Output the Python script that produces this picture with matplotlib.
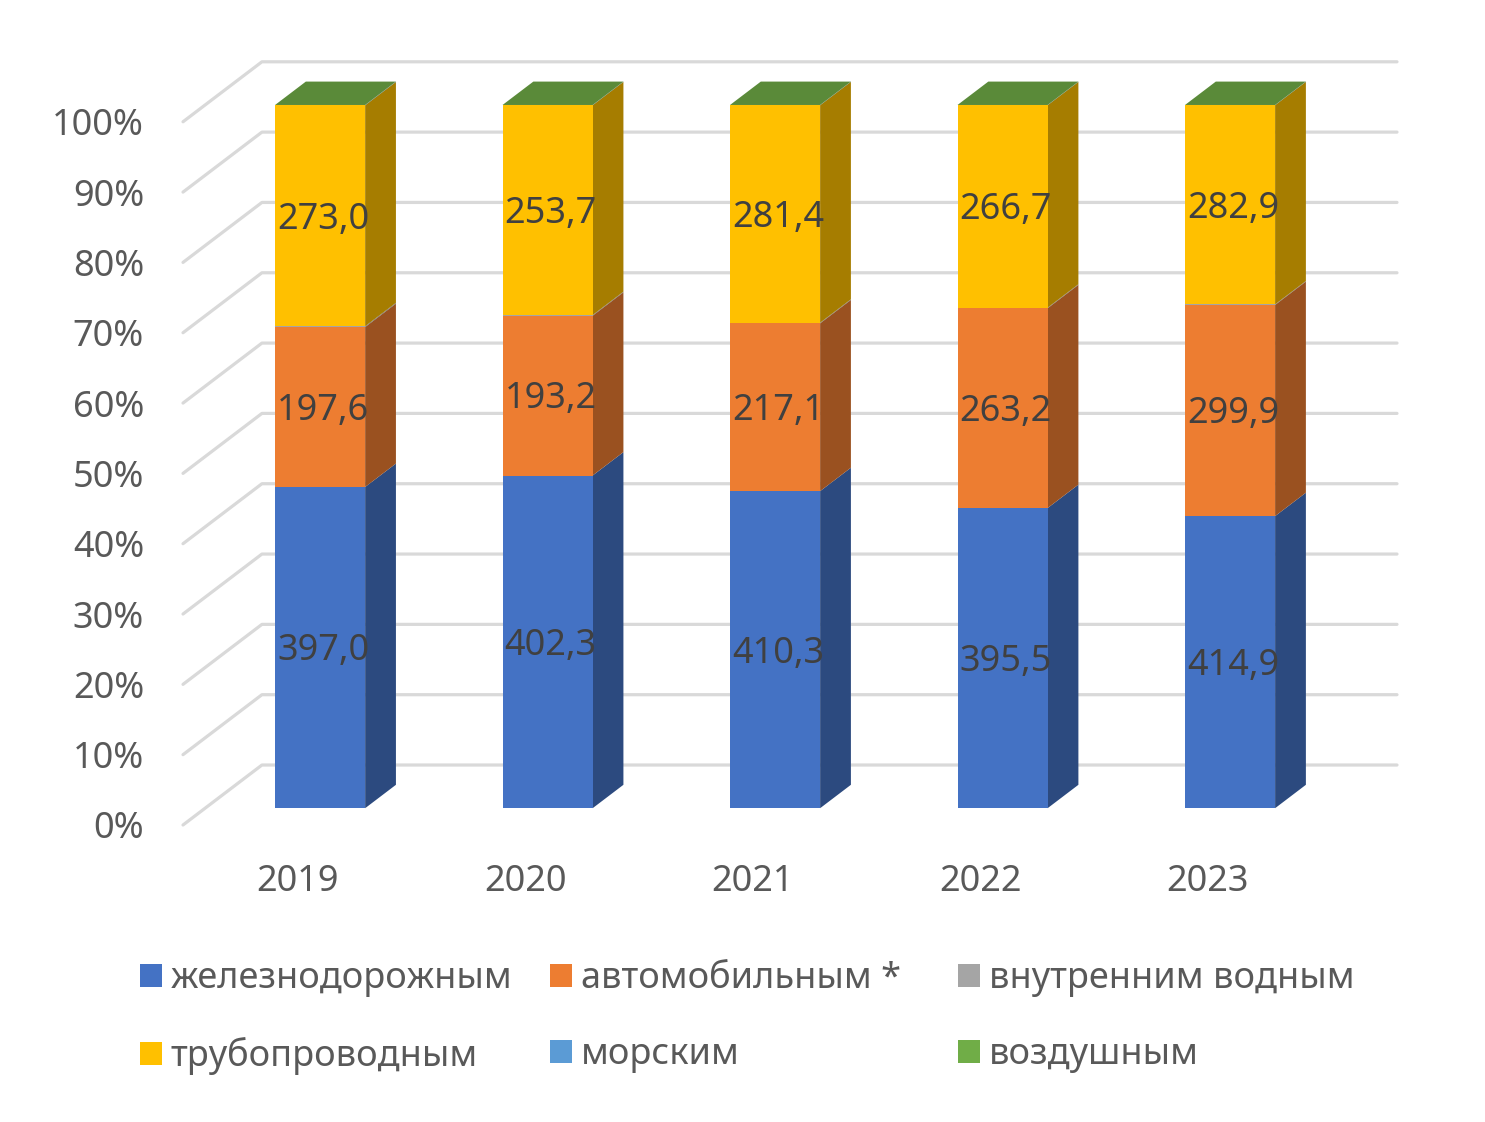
import numpy as np
import matplotlib.pyplot as plt
from matplotlib.patches import Polygon, Patch

plt.rcParams['font.family'] = ['Noto Sans', 'DejaVu Sans']

# Данные (перевозки грузов по видам транспорта)
years = ['2019', '2020', '2021', '2022', '2023']
zhd = [397.0, 402.3, 410.3, 395.5, 414.9]        # железнодорожным
avto = [197.6, 193.2, 217.1, 263.2, 299.9]       # автомобильным *
vodn = [1.0, 0.8, 0.8, 0.8, 0.8]                 # внутренним водным (мало, оценка)
truba = [273.0, 253.7, 281.4, 266.7, 282.9]      # трубопроводным
more = [0.4, 0.3, 0.3, 0.3, 0.3]                 # морским (оценка)
vozd = [0.05, 0.05, 0.05, 0.05, 0.05]            # воздушным (оценка)

names = ['железнодорожным', 'автомобильным *', 'внутренним водным',
         'трубопроводным', 'морским', 'воздушным']
colors = ['#4472C4', '#ED7D31', '#A5A5A5', '#FFC000', '#5B9BD5', '#70AD47']
series = [zhd, avto, vodn, truba, more, vozd]
labeled = [True, True, False, True, False, False]

data = np.array(series, dtype=float)
pct = data / data.sum(axis=0) * 100


def shade(c, k):
    r, g, b = [int(c[i:i + 2], 16) / 255 for i in (1, 3, 5)]
    return (r * k, g * k, b * k)


fig = plt.figure(figsize=(14.85, 11.22), dpi=100)
ax = fig.add_axes([183 / 1485, 1 - 825 / 1122, (1397 - 183) / 1485, (825 - 62) / 1122])
xl, xr = -0.5055, 4.831
ax.set_xlim(xl, xr)
ax.set_ylim(0, 108.5)

# глубина "стен" и столбцов
DXW, DYW = 0.347, 8.53
z0, z1 = 0.28, 0.67
bx, by = DXW * z0, DYW * z0
dx, dy = DXW * (z1 - z0), DYW * (z1 - z0)
w = 0.396

grid_c = '#D9D9D9'
for g in range(0, 101, 10):
    ax.plot([xl, xl + DXW, xr], [g, g + DYW, g + DYW], color=grid_c, lw=2.3,
            clip_on=False, zorder=1, solid_capstyle='round')

x = np.arange(len(years))
bottom = np.zeros(len(years))
for k in range(len(series)):
    h = pct[k]
    ax.bar(x + bx, h, width=w, bottom=bottom + by, color=colors[k], linewidth=0, zorder=3)
    for i in range(len(years)):
        xr_i = x[i] + bx + w / 2
        y0 = bottom[i] + by
        y1 = y0 + h[i]
        ax.add_patch(Polygon([(xr_i, y0), (xr_i + dx, y0 + dy), (xr_i + dx, y1 + dy), (xr_i, y1)],
                             closed=True, facecolor=shade(colors[k], 0.65), edgecolor='none', zorder=2.5))
        if labeled[k]:
            ax.text(x[i] + bx + 0.013, y0 + h[i] / 2 - 0.55, f"{series[k][i]:.1f}".replace('.', ','),
                    ha='center', va='center', fontsize=26, color='#404040', zorder=5)
    bottom += h

# верхняя грань
for i in range(len(years)):
    xl_i = x[i] + bx - w / 2
    xr_i = x[i] + bx + w / 2
    yt = 100 + by
    ax.add_patch(Polygon([(xl_i, yt), (xr_i, yt), (xr_i + dx, yt + dy), (xl_i + dx, yt + dy)],
                         closed=True, facecolor=shade(colors[-1], 0.8), edgecolor='none', zorder=2.5))

for s in ax.spines.values():
    s.set_visible(False)
ax.set_yticks(range(0, 101, 10))
ax.set_yticklabels([f"{g}%" for g in range(0, 101, 10)])
ax.set_xticks(x)
ax.set_xticklabels(years)
ax.tick_params(axis='y', length=0, pad=28, labelsize=26, labelcolor='#595959')
ax.tick_params(axis='x', length=0, pad=28, labelsize=26, labelcolor='#595959')

# легенда: три колонки по две строки
col_x = [140, 550, 958]
for c in range(3):
    ks = [c, c + 3]
    handles = [Patch(facecolor=colors[k], edgecolor='none') for k in ks]
    fig.legend(handles, [names[k] for k in ks], loc='upper left',
               bbox_to_anchor=(col_x[c] / 1485, 1 - 961 / 1122),
               frameon=False, fontsize=26, labelcolor='#595959', borderpad=0, borderaxespad=0,
               handlelength=0.6, handleheight=0.6, handletextpad=0.25, labelspacing=1.12)

plt.savefig('out.png', dpi=100)
